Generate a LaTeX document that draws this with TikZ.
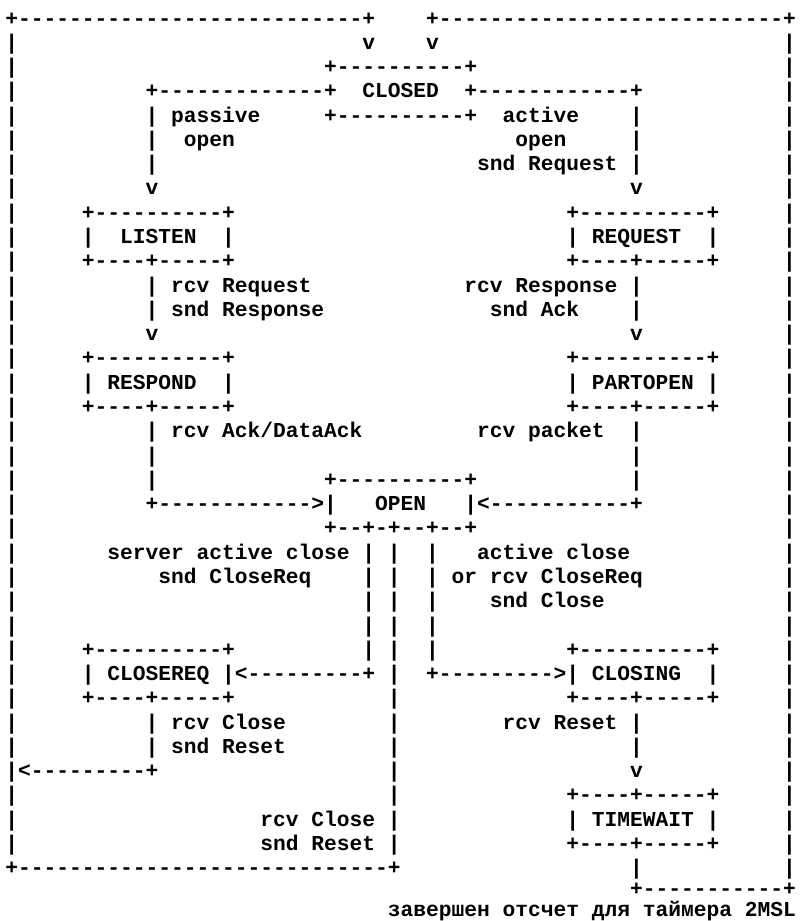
\documentclass[tikz,border=0pt]{standalone}
\usepackage{fontspec}
\setmonofont{Liberation Mono}
\newcommand\rp[2]{\ifnum#1>0 #2\expandafter\rp\expandafter{\the\numexpr#1-1\relax}{#2}\fi}
\newcommand\Lseg[4]{\node[txt] (#1) at ({5.125+12.75*#3},{25+24.28*#2}) {#4};}
\tikzset{txt/.style={anchor=base west, inner sep=0pt, font=\ttfamily\bfseries\fontsize{21.25}{25}\selectfont}}
\begin{document}
\begin{tikzpicture}[x=1pt,y=-1pt]
\fill[white] (0,0) rectangle (802,921);
\useasboundingbox (0,0) rectangle (802,921);
% row 0
\Lseg{a0}{0}{0}{+\rp{27}{-}+}
\Lseg{a1}{0}{33}{+\rp{27}{-}+}
% row 1
\Lseg{b0}{1}{0}{|}\Lseg{b1}{1}{28}{v}\Lseg{b2}{1}{33}{v}\Lseg{b3}{1}{61}{|}
% row 2
\Lseg{c0}{2}{0}{|}\Lseg{c1}{2}{25}{+\rp{10}{-}+}\Lseg{c2}{2}{61}{|}
% row 3
\Lseg{d0}{3}{0}{|}\Lseg{d1}{3}{11}{+\rp{13}{-}+}\Lseg{closed}{3}{28}{CLOSED}\Lseg{d2}{3}{36}{+\rp{12}{-}+}\Lseg{d3}{3}{61}{|}
% row 4
\Lseg{e0}{4}{0}{|}\Lseg{e1}{4}{11}{| passive}\Lseg{e2}{4}{25}{+\rp{10}{-}+}\Lseg{e3}{4}{39}{active}\Lseg{e4}{4}{49}{|}\Lseg{e5}{4}{61}{|}
% row 5
\Lseg{f0}{5}{0}{|}\Lseg{f1}{5}{11}{|}\Lseg{f2}{5}{14}{open}\Lseg{f3}{5}{40}{open}\Lseg{f4}{5}{49}{|}\Lseg{f5}{5}{61}{|}
% row 6
\Lseg{g0}{6}{0}{|}\Lseg{g1}{6}{11}{|}\Lseg{g2}{6}{37}{snd Request |}\Lseg{g3}{6}{61}{|}
% row 7
\Lseg{h0}{7}{0}{|}\Lseg{h1}{7}{11}{v}\Lseg{h2}{7}{49}{v}\Lseg{h3}{7}{61}{|}
% row 8
\Lseg{i0}{8}{0}{|}\Lseg{i1}{8}{6}{+\rp{10}{-}+}\Lseg{i2}{8}{44}{+\rp{10}{-}+}\Lseg{i3}{8}{61}{|}
% row 9
\Lseg{j0}{9}{0}{|}\Lseg{j1}{9}{6}{|}\Lseg{listen}{9}{9}{LISTEN}\Lseg{j2}{9}{17}{|}\Lseg{j3}{9}{44}{|}\Lseg{request}{9}{46}{REQUEST}\Lseg{j4}{9}{55}{|}\Lseg{j5}{9}{61}{|}
% row 10
\Lseg{k0}{10}{0}{|}\Lseg{k1}{10}{6}{+\rp{4}{-}+\rp{5}{-}+}\Lseg{k2}{10}{44}{+\rp{4}{-}+\rp{5}{-}+}\Lseg{k3}{10}{61}{|}
% row 11
\Lseg{l0}{11}{0}{|}\Lseg{l1}{11}{11}{| rcv Request}\Lseg{l2}{11}{36}{rcv Response |}\Lseg{l3}{11}{61}{|}
% row 12
\Lseg{m0}{12}{0}{|}\Lseg{m1}{12}{11}{| snd Response}\Lseg{m2}{12}{38}{snd Ack}\Lseg{m3}{12}{49}{|}\Lseg{m4}{12}{61}{|}
% row 13
\Lseg{n0}{13}{0}{|}\Lseg{n1}{13}{11}{v}\Lseg{n2}{13}{49}{v}\Lseg{n3}{13}{61}{|}
% row 14
\Lseg{o0}{14}{0}{|}\Lseg{o1}{14}{6}{+\rp{10}{-}+}\Lseg{o2}{14}{44}{+\rp{10}{-}+}\Lseg{o3}{14}{61}{|}
% row 15
\Lseg{p0}{15}{0}{|}\Lseg{p1}{15}{6}{|}\Lseg{respond}{15}{8}{RESPOND}\Lseg{p2}{15}{17}{|}\Lseg{p3}{15}{44}{|}\Lseg{partopen}{15}{46}{PARTOPEN}\Lseg{p4}{15}{55}{|}\Lseg{p5}{15}{61}{|}
% row 16
\Lseg{q0}{16}{0}{|}\Lseg{q1}{16}{6}{+\rp{4}{-}+\rp{5}{-}+}\Lseg{q2}{16}{44}{+\rp{4}{-}+\rp{5}{-}+}\Lseg{q3}{16}{61}{|}
% row 17
\Lseg{r0}{17}{0}{|}\Lseg{r1}{17}{11}{| rcv Ack/DataAck}\Lseg{r2}{17}{37}{rcv packet}\Lseg{r3}{17}{49}{|}\Lseg{r4}{17}{61}{|}
% row 18
\Lseg{s0}{18}{0}{|}\Lseg{s1}{18}{11}{|}\Lseg{s2}{18}{49}{|}\Lseg{s3}{18}{61}{|}
% row 19
\Lseg{t0}{19}{0}{|}\Lseg{t1}{19}{11}{|}\Lseg{t2}{19}{25}{+\rp{10}{-}+}\Lseg{t3}{19}{49}{|}\Lseg{t4}{19}{61}{|}
% row 20
\Lseg{u0}{20}{0}{|}\Lseg{u1}{20}{11}{+\rp{12}{-}>|}\Lseg{open}{20}{29}{OPEN}\Lseg{u2}{20}{36}{|<\rp{11}{-}+}\Lseg{u3}{20}{61}{|}
% row 21
\Lseg{v0}{21}{0}{|}\Lseg{v1}{21}{25}{+\rp{2}{-}+\rp{1}{-}+\rp{2}{-}+\rp{2}{-}+}\Lseg{v2}{21}{61}{|}
% row 22
\Lseg{w0}{22}{0}{|}\Lseg{w1}{22}{8}{server active close | |}\Lseg{w2}{22}{33}{|}\Lseg{w3}{22}{37}{active close}\Lseg{w4}{22}{61}{|}
% row 23
\Lseg{x0}{23}{0}{|}\Lseg{x1}{23}{12}{snd CloseReq}\Lseg{x2}{23}{28}{| |}\Lseg{x3}{23}{33}{| or rcv CloseReq}\Lseg{x4}{23}{61}{|}
% row 24
\Lseg{y0}{24}{0}{|}\Lseg{y1}{24}{28}{| |}\Lseg{y2}{24}{33}{|}\Lseg{y3}{24}{38}{snd Close}\Lseg{y4}{24}{61}{|}
% row 25
\Lseg{z0}{25}{0}{|}\Lseg{z1}{25}{28}{| |}\Lseg{z2}{25}{33}{|}\Lseg{z3}{25}{61}{|}
% row 26
\Lseg{A0}{26}{0}{|}\Lseg{A1}{26}{6}{+\rp{10}{-}+}\Lseg{A2}{26}{28}{| |}\Lseg{A3}{26}{33}{|}\Lseg{A4}{26}{44}{+\rp{10}{-}+}\Lseg{A5}{26}{61}{|}
% row 27
\Lseg{B0}{27}{0}{|}\Lseg{B1}{27}{6}{| CLOSEREQ |<\rp{9}{-}+}\Lseg{B2}{27}{30}{|}\Lseg{B3}{27}{33}{+\rp{9}{-}>| CLOSING}\Lseg{B4}{27}{55}{|}\Lseg{B5}{27}{61}{|}
% row 28
\Lseg{C0}{28}{0}{|}\Lseg{C1}{28}{6}{+\rp{4}{-}+\rp{5}{-}+}\Lseg{C2}{28}{30}{|}\Lseg{C3}{28}{44}{+\rp{4}{-}+\rp{5}{-}+}\Lseg{C4}{28}{61}{|}
% row 29
\Lseg{D0}{29}{0}{|}\Lseg{D1}{29}{11}{| rcv Close}\Lseg{D2}{29}{30}{|}\Lseg{D3}{29}{39}{rcv Reset |}\Lseg{D4}{29}{61}{|}
% row 30
\Lseg{E0}{30}{0}{|}\Lseg{E1}{30}{11}{| snd Reset}\Lseg{E2}{30}{30}{|}\Lseg{E3}{30}{49}{|}\Lseg{E4}{30}{61}{|}
% row 31
\Lseg{F0}{31}{0}{|<\rp{9}{-}+}\Lseg{F1}{31}{30}{|}\Lseg{F2}{31}{49}{v}\Lseg{F3}{31}{61}{|}
% row 32
\Lseg{G0}{32}{0}{|}\Lseg{G1}{32}{30}{|}\Lseg{G2}{32}{44}{+\rp{4}{-}+\rp{5}{-}+}\Lseg{G3}{32}{61}{|}
% row 33
\Lseg{H0}{33}{0}{|}\Lseg{H1}{33}{20}{rcv Close |}\Lseg{H2}{33}{44}{| TIMEWAIT |}\Lseg{H3}{33}{61}{|}
% row 34
\Lseg{I0}{34}{0}{|}\Lseg{I1}{34}{20}{snd Reset |}\Lseg{I2}{34}{44}{+\rp{4}{-}+\rp{5}{-}+}\Lseg{I3}{34}{61}{|}
% row 35
\Lseg{J0}{35}{0}{+\rp{29}{-}+}\Lseg{J1}{35}{49}{|}\Lseg{J2}{35}{61}{|}
% row 36 (lifted a little to leave room for the last line)
\Lseg{K0}{35.85}{49}{+\rp{11}{-}+}
% row 37 (placed so that it stays inside the page)
\Lseg{K1}{36.7}{30}{завершен отсчет для таймера 2MSL}
\end{tikzpicture}
\end{document}
